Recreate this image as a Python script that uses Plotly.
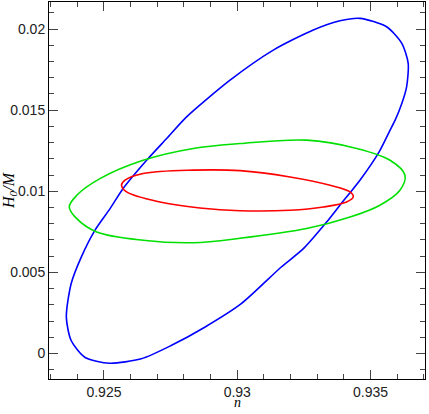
import plotly.graph_objects as go

# contour points (n, H0/M)
blue_n = [0.93460, 0.93560, 0.93617, 0.93641, 0.93635, 0.93617, 0.93592, 0.93573,
          0.93532, 0.93460, 0.93385, 0.93335, 0.93248, 0.93165, 0.93015, 0.92878,
          0.92752, 0.92640, 0.92521, 0.92428, 0.92377, 0.92359, 0.92377, 0.92415,
          0.92466, 0.92523, 0.92572, 0.92660, 0.92735, 0.92810, 0.92973, 0.93135,
          0.93285, 0.93385, 0.93460]
blue_h = [0.02066, 0.02014, 0.01912, 0.01788, 0.01644, 0.01541, 0.01438, 0.01377,
          0.01243, 0.01068, 0.00914, 0.00810, 0.00646, 0.00533, 0.00307, 0.00162,
          0.00049, -0.00033, -0.00060, -0.00023, 0.00080, 0.00224, 0.00430, 0.00594,
          0.00759, 0.00893, 0.01017, 0.01191, 0.01325, 0.01459, 0.01685, 0.01870,
          0.01994, 0.02051, 0.02066]

green_n = [0.92370, 0.92398, 0.92485, 0.92647, 0.92835, 0.93010, 0.93260, 0.93448,
           0.93573, 0.93629, 0.93610, 0.93535, 0.93423, 0.93260, 0.93010, 0.92835,
           0.92647, 0.92473, 0.92398, 0.92370]
green_h = [0.00903, 0.00975, 0.01078, 0.01191, 0.01264, 0.01294, 0.01315, 0.01264,
           0.01191, 0.01099, 0.01006, 0.00914, 0.00841, 0.00770, 0.00710, 0.00683,
           0.00698, 0.00749, 0.00831, 0.00903]

red_n = [0.92566, 0.92579, 0.92647, 0.92835, 0.93010, 0.93198, 0.93348, 0.93423,
         0.93435, 0.93410, 0.93323, 0.93198, 0.93010, 0.92860, 0.92710, 0.92585,
         0.92566]
red_h = [0.01037, 0.01068, 0.01109, 0.01130, 0.01127, 0.01088, 0.01037, 0.00996,
         0.00965, 0.00934, 0.00903, 0.00883, 0.00880, 0.00897, 0.00934, 0.00996,
         0.01037]

x_ticks = [0.925, 0.93, 0.935]
x_labels = ['0.925', '0.93', '0.935']
y_ticks = [0, 0.005, 0.01, 0.015, 0.02]
y_labels = ['0', '0.005', '0.01', '0.015', '0.02']

fig = go.Figure()

for xs, ys, col, sm in [(blue_n, blue_h, '#0000ff', 0.7),
                        (green_n, green_h, '#00e000', 1.0),
                        (red_n, red_h, '#ff0000', 1.0)]:
    fig.add_trace(go.Scatter(x=xs, y=ys, mode='lines',
                             line=dict(color=col, width=1.6, shape='spline', smoothing=sm),
                             showlegend=False, hoverinfo='skip'))

axis_common = dict(
    showgrid=False, zeroline=False,
    showline=True, linecolor='black', linewidth=1, mirror='allticks',
    ticks='inside', ticklen=9, tickwidth=1, tickcolor='#444',
    tickfont=dict(family='Liberation Sans, Arial', size=14, color='#222'),
)

fig.update_xaxes(range=[0.92294, 0.93704], tickvals=x_ticks, ticktext=x_labels,
                 minor=dict(ticks='inside', dtick=0.001, tick0=0.92, ticklen=5,
                            tickcolor='#444', showgrid=False),
                 **axis_common)
fig.update_yaxes(range=[-0.001574, 0.021667], tickvals=y_ticks, ticktext=y_labels,
                 minor=dict(ticks='inside', dtick=0.001, tick0=0, ticklen=5,
                            tickcolor='#444', showgrid=False),
                 title=dict(text='<i>H<sub>0</sub>/M</i>', standoff=0,
                            font=dict(family='Liberation Serif, Times New Roman', size=16, color='black')),
                 **axis_common)

# x-axis title as annotation so it sits just under the tick labels
fig.add_annotation(text='<i>n</i>', xref='paper', yref='paper', x=0.5, y=-0.0875,
                   xanchor='center', yanchor='bottom', showarrow=False,
                   font=dict(family='Liberation Serif, Times New Roman', size=14, color='black'))

fig.update_layout(
    width=429, height=414,
    margin=dict(l=49, r=4, t=2, b=35, autoexpand=False),
    plot_bgcolor='white', paper_bgcolor='white',
)

fig.write_html("out.html", config={'displayModeBar': False},
               post_script="document.body.style.margin='0';")
